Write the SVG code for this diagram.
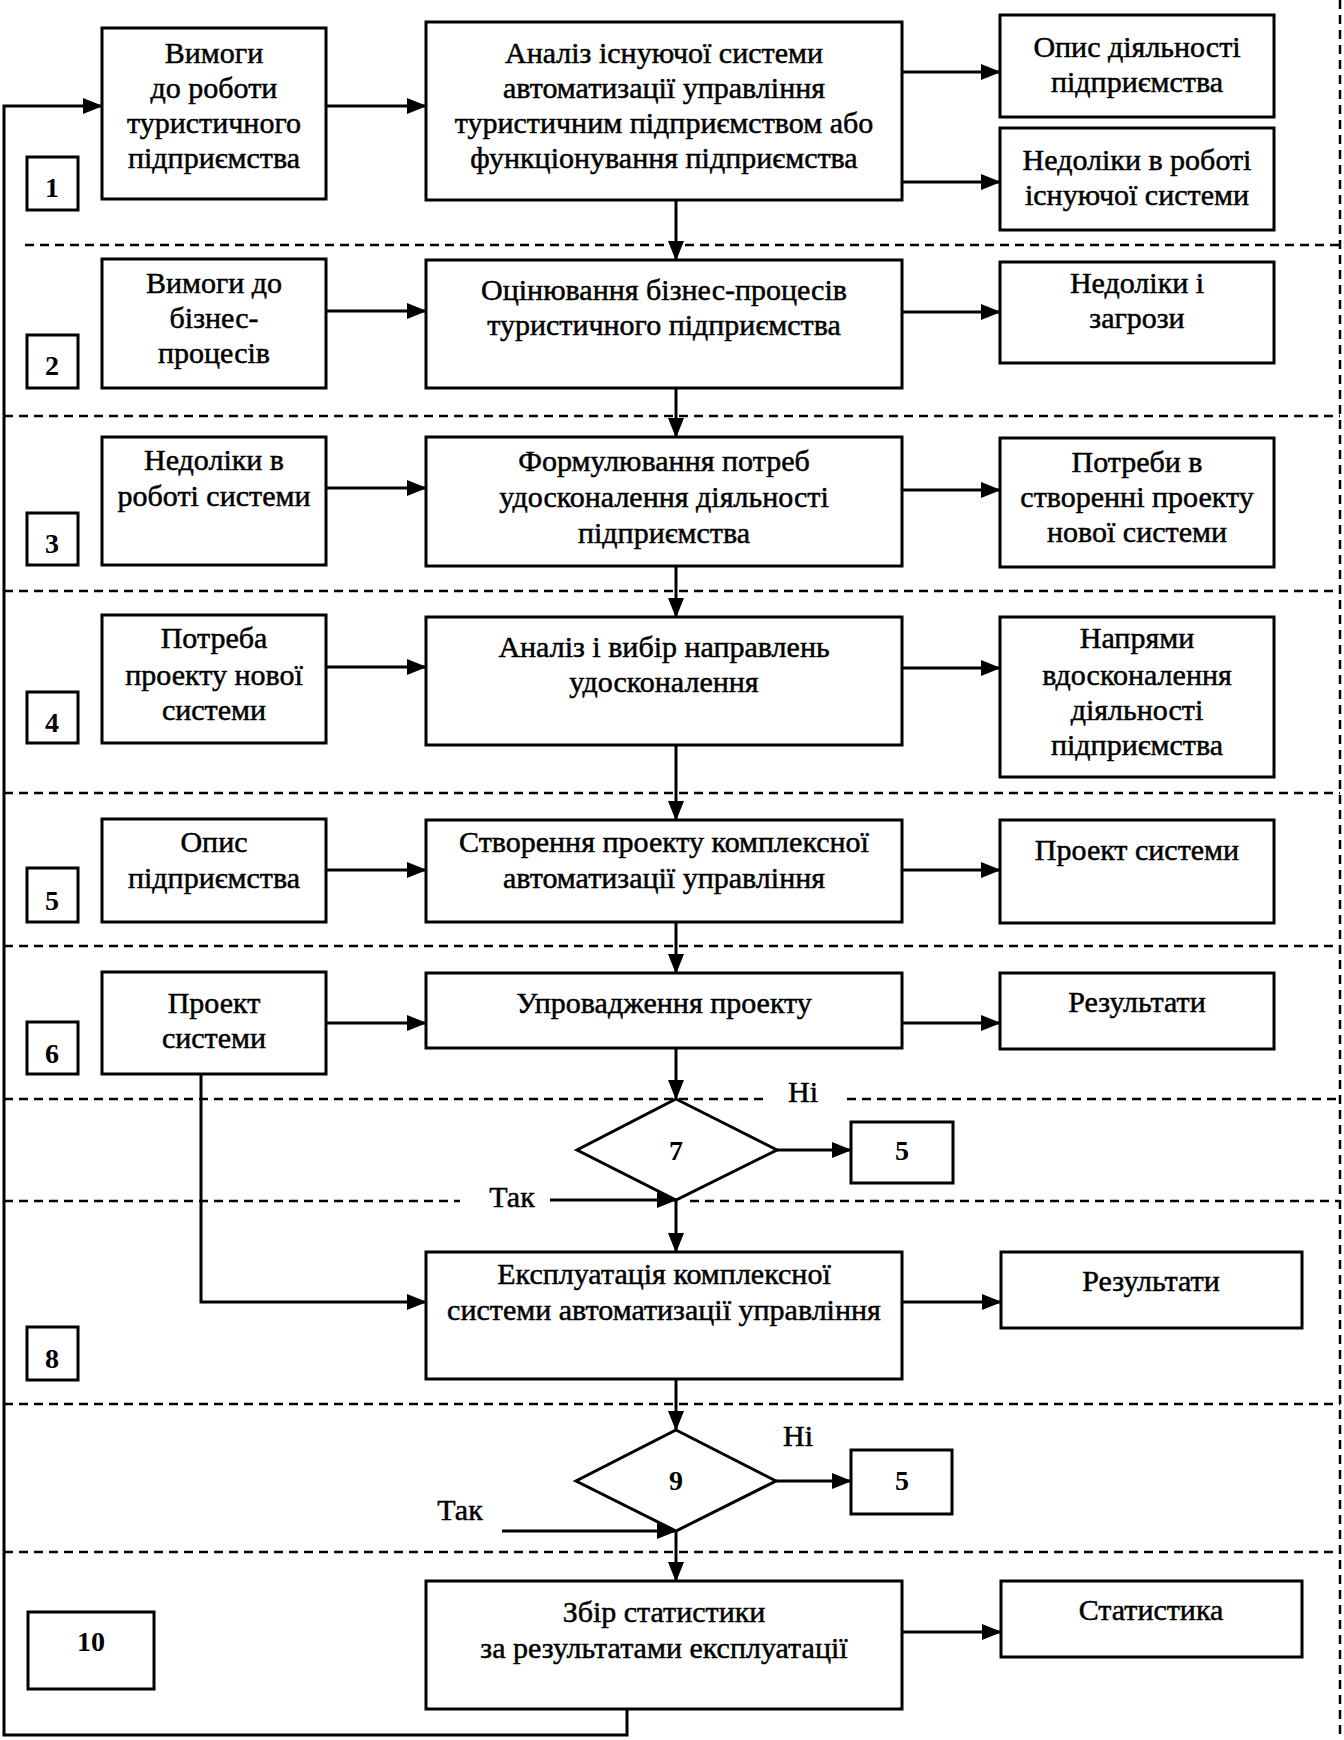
<svg xmlns="http://www.w3.org/2000/svg" width="1344" height="1740" viewBox="0 0 1344 1740">
<style>
.box{fill:#fff;stroke:#000;stroke-width:3}
.dia{fill:#fff;stroke:#000;stroke-width:3}
.ln{fill:none;stroke:#000;stroke-width:3}
.dash{fill:none;stroke:#000;stroke-width:2.5;stroke-dasharray:9 6}
.t{font-family:"Liberation Serif","Times New Roman",serif;font-size:30px;text-anchor:middle;fill:#000;stroke:#000;stroke-width:0.5}
.n{font-family:"Liberation Serif","Times New Roman",serif;font-size:28px;font-weight:bold;text-anchor:middle;fill:#000}
</style>
<defs>
<marker id="ah" markerUnits="userSpaceOnUse" markerWidth="20" markerHeight="16" refX="19" refY="8" orient="auto">
<path d="M0,0 L20,8 L0,16 Z" fill="#000"/>
</marker>
</defs>
<rect x="0" y="0" width="1344" height="1740" fill="#fff"/>

<g id="separators">
<line class="dash" x1="1340" y1="0" x2="1340" y2="1740"/>
<line class="dash" x1="25" y1="245" x2="1340" y2="245"/>
<line class="dash" x1="4" y1="416" x2="1340" y2="416"/>
<line class="dash" x1="4" y1="591" x2="1340" y2="591"/>
<line class="dash" x1="4" y1="793" x2="1340" y2="793"/>
<line class="dash" x1="4" y1="946" x2="1340" y2="946"/>
<line class="dash" x1="4" y1="1099" x2="765" y2="1099"/>
<line class="dash" x1="847" y1="1099" x2="1340" y2="1099"/>
<line class="dash" x1="4" y1="1201" x2="460" y2="1201"/>
<line class="dash" x1="690" y1="1201" x2="1340" y2="1201"/>
<line class="dash" x1="4" y1="1404" x2="1340" y2="1404"/>
<line class="dash" x1="4" y1="1552" x2="1340" y2="1552"/>
</g>

<g id="connectors">
<polyline class="ln" points="627,1709 627,1735 4,1735 4,106 102,106" marker-end="url(#ah)"/>
<line class="ln" x1="326" y1="106" x2="426" y2="106" marker-end="url(#ah)"/>
<line class="ln" x1="902" y1="72" x2="1000" y2="72" marker-end="url(#ah)"/>
<line class="ln" x1="902" y1="182" x2="1000" y2="182" marker-end="url(#ah)"/>
<line class="ln" x1="676" y1="200" x2="676" y2="260" marker-end="url(#ah)"/>
<line class="ln" x1="326" y1="311" x2="426" y2="311" marker-end="url(#ah)"/>
<line class="ln" x1="902" y1="312" x2="1000" y2="312" marker-end="url(#ah)"/>
<line class="ln" x1="676" y1="388" x2="676" y2="437" marker-end="url(#ah)"/>
<line class="ln" x1="326" y1="488" x2="426" y2="488" marker-end="url(#ah)"/>
<line class="ln" x1="902" y1="490" x2="1000" y2="490" marker-end="url(#ah)"/>
<line class="ln" x1="676" y1="566" x2="676" y2="617" marker-end="url(#ah)"/>
<line class="ln" x1="326" y1="667" x2="426" y2="667" marker-end="url(#ah)"/>
<line class="ln" x1="902" y1="668" x2="1000" y2="668" marker-end="url(#ah)"/>
<line class="ln" x1="676" y1="745" x2="676" y2="820" marker-end="url(#ah)"/>
<line class="ln" x1="326" y1="870" x2="426" y2="870" marker-end="url(#ah)"/>
<line class="ln" x1="902" y1="870" x2="1000" y2="870" marker-end="url(#ah)"/>
<line class="ln" x1="676" y1="922" x2="676" y2="973" marker-end="url(#ah)"/>
<line class="ln" x1="326" y1="1023" x2="426" y2="1023" marker-end="url(#ah)"/>
<line class="ln" x1="902" y1="1023" x2="1000" y2="1023" marker-end="url(#ah)"/>
<line class="ln" x1="676" y1="1048" x2="676" y2="1099" marker-end="url(#ah)"/>
<line class="ln" x1="777" y1="1150" x2="851" y2="1150" marker-end="url(#ah)"/>
<line class="ln" x1="550" y1="1200" x2="676" y2="1200" marker-end="url(#ah)"/>
<line class="ln" x1="676" y1="1200" x2="676" y2="1252" marker-end="url(#ah)"/>
<polyline class="ln" points="201,1074 201,1302 426,1302" marker-end="url(#ah)"/>
<line class="ln" x1="902" y1="1302" x2="1001" y2="1302" marker-end="url(#ah)"/>
<line class="ln" x1="676" y1="1379" x2="676" y2="1430" marker-end="url(#ah)"/>
<line class="ln" x1="776" y1="1481" x2="851" y2="1481" marker-end="url(#ah)"/>
<line class="ln" x1="502" y1="1531" x2="676" y2="1531" marker-end="url(#ah)"/>
<line class="ln" x1="676" y1="1531" x2="676" y2="1581" marker-end="url(#ah)"/>
<line class="ln" x1="902" y1="1632" x2="1001" y2="1632" marker-end="url(#ah)"/>
</g>

<g id="step1">
<rect class="box" x="27" y="157" width="51" height="53"/>
<text class="n" x="52" y="197">1</text>
</g>
<g id="req-work">
<rect class="box" x="102" y="28" width="224" height="171"/>
<text class="t" x="214" y="63">Вимоги</text>
<text class="t" x="214" y="98">до роботи</text>
<text class="t" x="214" y="133">туристичного</text>
<text class="t" x="214" y="168">підприємства</text>
</g>
<g id="analysis">
<rect class="box" x="426" y="22" width="476" height="178"/>
<text class="t" x="664" y="63">Аналіз існуючої системи</text>
<text class="t" x="664" y="98">автоматизації управління</text>
<text class="t" x="664" y="133">туристичним підприємством або</text>
<text class="t" x="664" y="168">функціонування підприємства</text>
</g>
<g id="desc-activity">
<rect class="box" x="1000" y="15" width="274" height="102"/>
<text class="t" x="1137" y="57">Опис діяльності</text>
<text class="t" x="1137" y="92">підприємства</text>
</g>
<g id="flaws-existing">
<rect class="box" x="1000" y="128" width="274" height="102"/>
<text class="t" x="1137" y="170">Недоліки в роботі</text>
<text class="t" x="1137" y="205">існуючої системи</text>
</g>

<g id="step2">
<rect class="box" x="27" y="335" width="51" height="53"/>
<text class="n" x="52" y="375">2</text>
</g>
<g id="req-bp">
<rect class="box" x="102" y="259" width="224" height="129"/>
<text class="t" x="214" y="293">Вимоги до</text>
<text class="t" x="214" y="328">бізнес-</text>
<text class="t" x="214" y="363">процесів</text>
</g>
<g id="eval-bp">
<rect class="box" x="426" y="260" width="476" height="128"/>
<text class="t" x="664" y="300">Оцінювання бізнес-процесів</text>
<text class="t" x="664" y="335">туристичного підприємства</text>
</g>
<g id="flaws-threats">
<rect class="box" x="1000" y="262" width="274" height="101"/>
<text class="t" x="1137" y="293">Недоліки і</text>
<text class="t" x="1137" y="328">загрози</text>
</g>

<g id="step3">
<rect class="box" x="27" y="513" width="51" height="52"/>
<text class="n" x="52" y="553">3</text>
</g>
<g id="flaws-system">
<rect class="box" x="102" y="437" width="224" height="128"/>
<text class="t" x="214" y="470">Недоліки в</text>
<text class="t" x="214" y="506">роботі системи</text>
</g>
<g id="formulate">
<rect class="box" x="426" y="437" width="476" height="129"/>
<text class="t" x="664" y="471">Формулювання потреб</text>
<text class="t" x="664" y="507">удосконалення діяльності</text>
<text class="t" x="664" y="543">підприємства</text>
</g>
<g id="needs-project">
<rect class="box" x="1000" y="438" width="274" height="129"/>
<text class="t" x="1137" y="472">Потреби в</text>
<text class="t" x="1137" y="507">створенні проекту</text>
<text class="t" x="1137" y="542">нової системи</text>
</g>

<g id="step4">
<rect class="box" x="27" y="692" width="51" height="51"/>
<text class="n" x="52" y="732">4</text>
</g>
<g id="need-new">
<rect class="box" x="102" y="615" width="224" height="128"/>
<text class="t" x="214" y="648">Потреба</text>
<text class="t" x="214" y="685">проекту нової</text>
<text class="t" x="214" y="720">системи</text>
</g>
<g id="choose-dir">
<rect class="box" x="426" y="617" width="476" height="128"/>
<text class="t" x="664" y="657">Аналіз і вибір направлень</text>
<text class="t" x="664" y="692">удосконалення</text>
</g>
<g id="directions">
<rect class="box" x="1000" y="617" width="274" height="160"/>
<text class="t" x="1137" y="648">Напрями</text>
<text class="t" x="1137" y="685">вдосконалення</text>
<text class="t" x="1137" y="720">діяльності</text>
<text class="t" x="1137" y="755">підприємства</text>
</g>

<g id="step5">
<rect class="box" x="27" y="868" width="51" height="54"/>
<text class="n" x="52" y="910">5</text>
</g>
<g id="desc-ent">
<rect class="box" x="102" y="819" width="224" height="103"/>
<text class="t" x="214" y="852">Опис</text>
<text class="t" x="214" y="888">підприємства</text>
</g>
<g id="create-project">
<rect class="box" x="426" y="820" width="476" height="102"/>
<text class="t" x="664" y="852">Створення проекту комплексної</text>
<text class="t" x="664" y="888">автоматизації управління</text>
</g>
<g id="project-out">
<rect class="box" x="1000" y="820" width="274" height="103"/>
<text class="t" x="1137" y="860">Проект системи</text>
</g>

<g id="step6">
<rect class="box" x="27" y="1022" width="51" height="52"/>
<text class="n" x="52" y="1063">6</text>
</g>
<g id="project-in">
<rect class="box" x="102" y="972" width="224" height="102"/>
<text class="t" x="214" y="1013">Проект</text>
<text class="t" x="214" y="1048">системи</text>
</g>
<g id="implement">
<rect class="box" x="426" y="973" width="476" height="75"/>
<text class="t" x="664" y="1013">Упровадження проекту</text>
</g>
<g id="results6">
<rect class="box" x="1000" y="973" width="274" height="76"/>
<text class="t" x="1137" y="1012">Результати</text>
</g>

<g id="decision7">
<polygon class="dia" points="676,1099 777,1150 676,1200 577,1150"/>
<text class="n" x="676" y="1160">7</text>
</g>
<g id="goto5a">
<rect class="box" x="851" y="1122" width="102" height="61"/>
<text class="n" x="902" y="1160">5</text>
</g>
<g id="labels7">
<text class="t" x="803" y="1102">Ні</text>
<text class="t" x="512" y="1207">Так</text>
</g>

<g id="step8">
<rect class="box" x="27" y="1327" width="51" height="53"/>
<text class="n" x="52" y="1368">8</text>
</g>
<g id="operate">
<rect class="box" x="426" y="1252" width="476" height="127"/>
<text class="t" x="664" y="1284">Експлуатація комплексної</text>
<text class="t" x="664" y="1320">системи автоматизації управління</text>
</g>
<g id="results8">
<rect class="box" x="1001" y="1252" width="301" height="76"/>
<text class="t" x="1151" y="1291">Результати</text>
</g>

<g id="decision9">
<polygon class="dia" points="676,1430 776,1481 676,1531 576,1481"/>
<text class="n" x="676" y="1490">9</text>
</g>
<g id="goto5b">
<rect class="box" x="851" y="1450" width="101" height="64"/>
<text class="n" x="902" y="1490">5</text>
</g>
<g id="labels9">
<text class="t" x="798" y="1446">Ні</text>
<text class="t" x="460" y="1520">Так</text>
</g>

<g id="step10">
<rect class="box" x="28" y="1612" width="126" height="77"/>
<text class="n" x="91" y="1651">10</text>
</g>
<g id="collect">
<rect class="box" x="426" y="1581" width="476" height="128"/>
<text class="t" x="664" y="1622">Збір статистики</text>
<text class="t" x="664" y="1658">за результатами експлуатації</text>
</g>
<g id="stats">
<rect class="box" x="1001" y="1581" width="301" height="76"/>
<text class="t" x="1151" y="1620">Статистика</text>
</g>
</svg>
